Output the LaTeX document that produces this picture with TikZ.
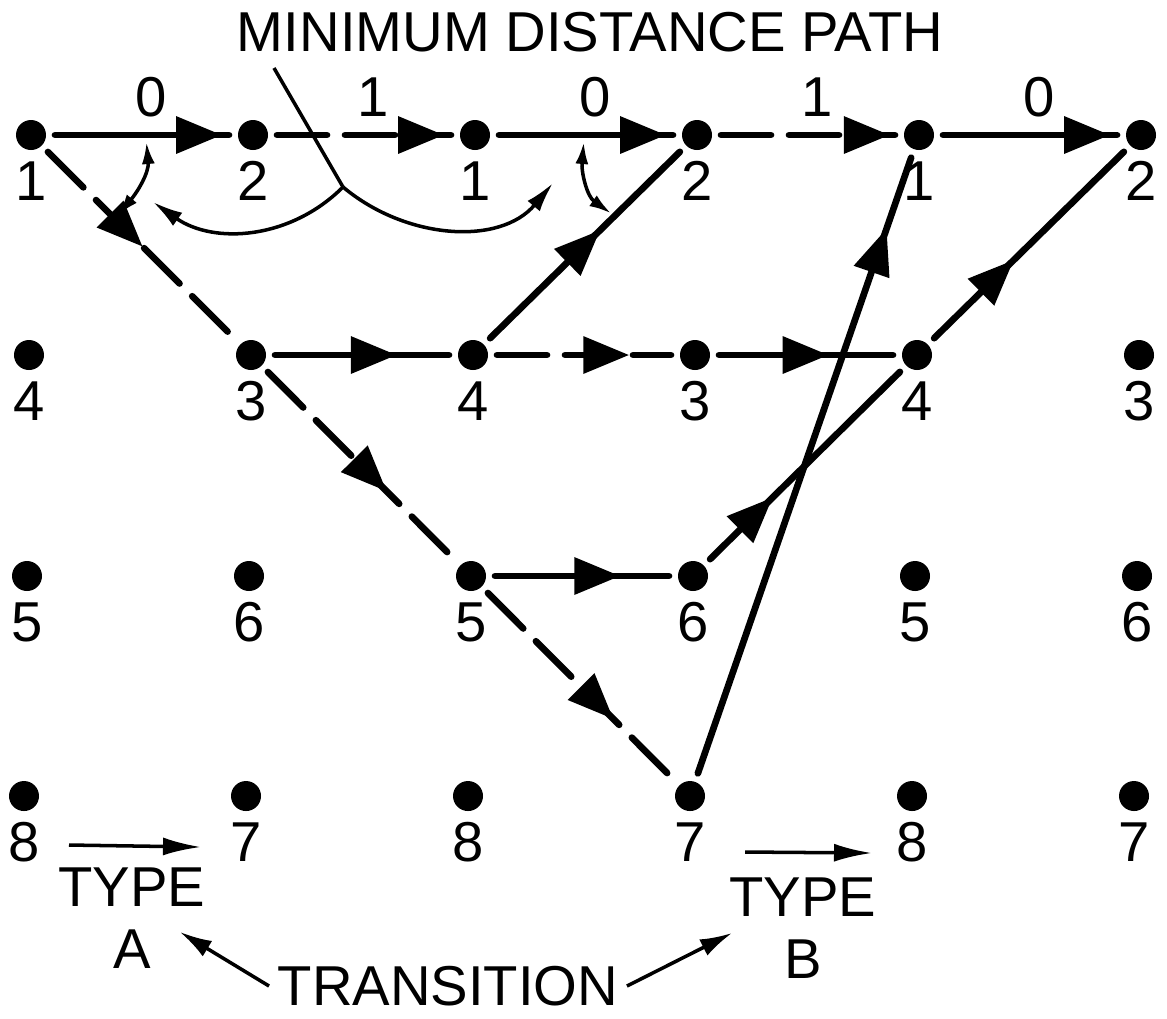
\documentclass[tikz,border=0pt]{standalone}
\usepackage{fontspec}
\setmainfont{Liberation Sans}
\usetikzlibrary{arrows.meta, positioning, calc, decorations.markings}

\tikzset{
  stnode/.style={circle, fill=black, inner sep=0pt, minimum size=0.3cm, outer sep=0.09cm},
  numlab/.style={inner sep=0pt, font=\fontsize{16}{17.5}\selectfont},
  edgelab/.style={numlab, pos=0.55, above=0.15cm},
  trellis/.style={line width=1.9pt, line cap=round},
  trellisdash/.style={trellis, dash pattern=on 0.5cm off 0.18cm},
  headat/.style={postaction={decorate}, decoration={markings,
      mark=at position #1 with {\arrow{Triangle[length=0.46cm, width=0.36cm]}}}},
  pointer/.style={line width=1pt},
}

\begin{document}
\begin{tikzpicture}
  \useasboundingbox (0,0) rectangle (11.67,-10.18);

  % Title
  \node[numlab] (title) at (5.90,-0.32) {MINIMUM DISTANCE PATH};

  % States
  \foreach \i/\n in {0/1, 1/2, 2/1, 3/2, 4/1, 5/2} {
    \node[stnode] (a\i) at (0.31 + \i*2.22, -1.35) {};
    \node[numlab, below=0.02cm of a\i] (la\i) {\n};
  }
  \foreach \i/\n in {0/4, 1/3, 2/4, 3/3, 4/4, 5/3} {
    \node[stnode] (b\i) at (0.29 + \i*2.22, -3.55) {};
    \node[numlab, below=0.02cm of b\i] (lb\i) {\n};
  }
  \foreach \i/\n in {0/5, 1/6, 2/5, 3/6, 4/5, 5/6} {
    \node[stnode] (c\i) at (0.27 + \i*2.22, -5.76) {};
    \node[numlab, below=0.02cm of c\i] (lc\i) {\n};
  }
  \foreach \i/\n in {0/8, 1/7, 2/8, 3/7, 4/8, 5/7} {
    \node[stnode] (d\i) at (0.24 + \i*2.22, -7.96) {};
    \node[numlab, below=0.02cm of d\i] (ld\i) {\n};
  }

  % Minimum distance path
  \draw[trellis, headat=0.96] (a0) -- (a1) node[edgelab] {0};
  \draw[trellisdash, headat=0.96] (a1) -- (a2) node[edgelab] {1};
  \draw[trellis, headat=0.96] (a2) -- (a3) node[edgelab] {0};
  \draw[trellisdash, headat=0.97] (a3) -- (a4) node[edgelab] {1};
  \draw[trellis, headat=0.96] (a4) -- (a5) node[edgelab] {0};

  % Other branches
  \draw[trellisdash, headat=0.51] (a0) -- (b1);
  \draw[trellisdash, headat=0.64] (b1) -- (c2);
  \draw[trellisdash, headat=0.68] (c2) -- (d3);
  \draw[trellis, headat=0.70] (b1) -- (b2);
  \draw[trellisdash, headat=0.76] (b2) -- (b3);
  \draw[trellis, headat=0.63] (b3) -- (b4);
  \draw[trellis, headat=0.72] (c2) -- (c3);
  \draw[trellis, headat=0.58] (b2) -- (a3);
  \draw[trellis, headat=0.33] (c3) -- (b4);
  \draw[trellis, headat=0.42] (b4) -- (a5);
  \draw[trellis, headat=0.885] (d3) -- (a4);

  % Pointer from title
  \coordinate (ptop) at (2.74,-0.68);
  \coordinate (pjoin) at (3.43,-1.87);
  \coordinate (ltip) at (1.53,-2.02);
  \coordinate (rtip) at (5.53,-1.83);
  \draw[pointer] (ptop) -- (pjoin);
  \draw[pointer, -{Latex[length=0.3cm, width=0.16cm]}] (pjoin) to[out=225, in=-35] (ltip);
  \draw[pointer, -{Latex[length=0.3cm, width=0.16cm]}] (pjoin) to[out=-40, in=230] (rtip);

  % Angle arrows
  \coordinate (g1a) at ($(a0)!0.52!(a1)+(0,-0.07)$);
  \coordinate (g1b) at ($(a0)!0.38!(b1)+(0.03,0.03)$);
  \coordinate (g2a) at ($(a2)!0.49!(a3)+(0,-0.07)$);
  \coordinate (g2b) at ($(b2)!0.63!(a3)+(-0.03,0.03)$);
  \draw[pointer, {Latex[length=0.22cm, width=0.13cm]}-{Latex[length=0.22cm, width=0.13cm]}] (g1a) to[out=-85, in=50] (g1b);
  \draw[pointer, {Latex[length=0.22cm, width=0.13cm]}-{Latex[length=0.22cm, width=0.13cm]}] (g2a) to[out=-95, in=145] (g2b);

  % Transition types
  \node[numlab, align=center] (typeA) at (1.32,-9.18) {TYPE\\A};
  \node[numlab, align=center] (typeB) at (8.03,-9.28) {TYPE\\B};
  \node[numlab, inner sep=0.08cm] (trans) at (4.48,-9.86) {TRANSITION};
  \coordinate (taS) at (0.69,-8.45);
  \coordinate (taE) at (2.01,-8.47);
  \coordinate (tbS) at (7.45,-8.52);
  \coordinate (tbE) at (8.72,-8.53);
  \coordinate (taTip) at (1.80,-9.32);
  \coordinate (tbTip) at (7.32,-9.33);
  \draw[pointer, -{Latex[length=0.38cm, width=0.18cm]}] (taS) -- (taE);
  \draw[pointer, -{Latex[length=0.38cm, width=0.18cm]}] (tbS) -- (tbE);
  \draw[pointer, -{Latex[length=0.32cm, width=0.18cm]}] (trans.west) -- (taTip);
  \draw[pointer, -{Latex[length=0.32cm, width=0.18cm]}] (trans.east) -- (tbTip);
\end{tikzpicture}
\end{document}
